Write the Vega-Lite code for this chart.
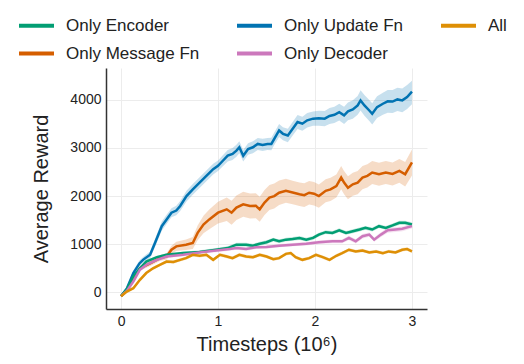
{
  "$schema": "https://vega.github.io/schema/vega-lite/v6.json",
  "width": 321,
  "height": 241,
  "autosize": "none",
  "padding": {"left": 106, "top": 68, "right": 97, "bottom": 55},
  "background": "white",
  "config": {
    "view": {"stroke": null},
    "font": "Liberation Sans",
    "axis": {
      "labelFont": "Liberation Sans", "titleFont": "Liberation Sans",
      "labelFontSize": 14, "titleFontSize": 20, "titleFontWeight": "normal",
      "labelColor": "#222", "titleColor": "#222",
      "domainColor": "#333", "domainWidth": 1.5,
      "gridColor": "#ececec", "gridWidth": 1, "ticks": false
    },
    "legend": {
      "labelFontSize": 17, "labelFont": "Liberation Sans", "labelColor": "#222",
      "symbolStrokeWidth": 4, "padding": 0
    }
  },
  "data": {"values": [
    {"s":"Only Update Fn","t":0,"v":-80,"lo":-100,"hi":-60},
    {"s":"Only Update Fn","t":0.06,"v":80,"lo":40,"hi":120},
    {"s":"Only Update Fn","t":0.127,"v":400,"lo":340,"hi":460},
    {"s":"Only Update Fn","t":0.19,"v":600,"lo":540,"hi":660},
    {"s":"Only Update Fn","t":0.23,"v":680,"lo":620,"hi":740},
    {"s":"Only Update Fn","t":0.3,"v":780,"lo":710,"hi":850},
    {"s":"Only Update Fn","t":0.35,"v":1025,"lo":940,"hi":1110},
    {"s":"Only Update Fn","t":0.42,"v":1375,"lo":1280,"hi":1470},
    {"s":"Only Update Fn","t":0.47,"v":1515,"lo":1420,"hi":1610},
    {"s":"Only Update Fn","t":0.52,"v":1655,"lo":1560,"hi":1750},
    {"s":"Only Update Fn","t":0.57,"v":1700,"lo":1600,"hi":1800},
    {"s":"Only Update Fn","t":0.61,"v":1795,"lo":1690,"hi":1900},
    {"s":"Only Update Fn","t":0.675,"v":2000,"lo":1890,"hi":2110},
    {"s":"Only Update Fn","t":0.74,"v":2140,"lo":2030,"hi":2250},
    {"s":"Only Update Fn","t":0.81,"v":2280,"lo":2170,"hi":2390},
    {"s":"Only Update Fn","t":0.88,"v":2420,"lo":2310,"hi":2530},
    {"s":"Only Update Fn","t":0.95,"v":2560,"lo":2450,"hi":2670},
    {"s":"Only Update Fn","t":1.0,"v":2630,"lo":2520,"hi":2740},
    {"s":"Only Update Fn","t":1.05,"v":2735,"lo":2620,"hi":2850},
    {"s":"Only Update Fn","t":1.1,"v":2840,"lo":2720,"hi":2960},
    {"s":"Only Update Fn","t":1.15,"v":2875,"lo":2750,"hi":3000},
    {"s":"Only Update Fn","t":1.19,"v":2945,"lo":2820,"hi":3070},
    {"s":"Only Update Fn","t":1.22,"v":3015,"lo":2890,"hi":3140},
    {"s":"Only Update Fn","t":1.26,"v":2840,"lo":2720,"hi":2960},
    {"s":"Only Update Fn","t":1.31,"v":2980,"lo":2860,"hi":3100},
    {"s":"Only Update Fn","t":1.36,"v":3015,"lo":2890,"hi":3140},
    {"s":"Only Update Fn","t":1.41,"v":3085,"lo":2960,"hi":3210},
    {"s":"Only Update Fn","t":1.46,"v":3065,"lo":2940,"hi":3190},
    {"s":"Only Update Fn","t":1.51,"v":3085,"lo":2960,"hi":3210},
    {"s":"Only Update Fn","t":1.55,"v":3085,"lo":2955,"hi":3215},
    {"s":"Only Update Fn","t":1.58,"v":3190,"lo":3060,"hi":3320},
    {"s":"Only Update Fn","t":1.63,"v":3365,"lo":3230,"hi":3500},
    {"s":"Only Update Fn","t":1.67,"v":3295,"lo":3160,"hi":3430},
    {"s":"Only Update Fn","t":1.72,"v":3260,"lo":3120,"hi":3400},
    {"s":"Only Update Fn","t":1.77,"v":3400,"lo":3260,"hi":3540},
    {"s":"Only Update Fn","t":1.82,"v":3540,"lo":3395,"hi":3685},
    {"s":"Only Update Fn","t":1.87,"v":3505,"lo":3360,"hi":3650},
    {"s":"Only Update Fn","t":1.92,"v":3575,"lo":3425,"hi":3725},
    {"s":"Only Update Fn","t":1.98,"v":3610,"lo":3460,"hi":3760},
    {"s":"Only Update Fn","t":2.04,"v":3620,"lo":3465,"hi":3775},
    {"s":"Only Update Fn","t":2.1,"v":3610,"lo":3450,"hi":3770},
    {"s":"Only Update Fn","t":2.15,"v":3665,"lo":3500,"hi":3830},
    {"s":"Only Update Fn","t":2.2,"v":3690,"lo":3520,"hi":3860},
    {"s":"Only Update Fn","t":2.25,"v":3745,"lo":3570,"hi":3920},
    {"s":"Only Update Fn","t":2.3,"v":3680,"lo":3500,"hi":3860},
    {"s":"Only Update Fn","t":2.34,"v":3760,"lo":3575,"hi":3945},
    {"s":"Only Update Fn","t":2.39,"v":3800,"lo":3610,"hi":3990},
    {"s":"Only Update Fn","t":2.44,"v":3885,"lo":3690,"hi":4080},
    {"s":"Only Update Fn","t":2.47,"v":3990,"lo":3780,"hi":4200},
    {"s":"Only Update Fn","t":2.51,"v":3885,"lo":3670,"hi":4100},
    {"s":"Only Update Fn","t":2.56,"v":3780,"lo":3560,"hi":4000},
    {"s":"Only Update Fn","t":2.59,"v":3710,"lo":3490,"hi":3930},
    {"s":"Only Update Fn","t":2.64,"v":3850,"lo":3625,"hi":4075},
    {"s":"Only Update Fn","t":2.7,"v":3920,"lo":3690,"hi":4150},
    {"s":"Only Update Fn","t":2.75,"v":3970,"lo":3735,"hi":4205},
    {"s":"Only Update Fn","t":2.8,"v":3965,"lo":3725,"hi":4205},
    {"s":"Only Update Fn","t":2.85,"v":4010,"lo":3770,"hi":4250},
    {"s":"Only Update Fn","t":2.9,"v":3990,"lo":3745,"hi":4235},
    {"s":"Only Update Fn","t":2.95,"v":4060,"lo":3810,"hi":4310},
    {"s":"Only Update Fn","t":3.0,"v":4170,"lo":3910,"hi":4400},

    {"s":"Only Message Fn","t":0,"v":-80,"lo":-100,"hi":-60},
    {"s":"Only Message Fn","t":0.06,"v":40,"lo":10,"hi":70},
    {"s":"Only Message Fn","t":0.127,"v":260,"lo":220,"hi":300},
    {"s":"Only Message Fn","t":0.195,"v":500,"lo":450,"hi":550},
    {"s":"Only Message Fn","t":0.3,"v":600,"lo":545,"hi":655},
    {"s":"Only Message Fn","t":0.4,"v":710,"lo":650,"hi":770},
    {"s":"Only Message Fn","t":0.47,"v":745,"lo":680,"hi":810},
    {"s":"Only Message Fn","t":0.52,"v":885,"lo":800,"hi":970},
    {"s":"Only Message Fn","t":0.57,"v":955,"lo":860,"hi":1050},
    {"s":"Only Message Fn","t":0.67,"v":990,"lo":880,"hi":1100},
    {"s":"Only Message Fn","t":0.74,"v":1025,"lo":900,"hi":1150},
    {"s":"Only Message Fn","t":0.79,"v":1235,"lo":1080,"hi":1390},
    {"s":"Only Message Fn","t":0.85,"v":1410,"lo":1230,"hi":1590},
    {"s":"Only Message Fn","t":0.91,"v":1515,"lo":1310,"hi":1720},
    {"s":"Only Message Fn","t":1.0,"v":1655,"lo":1430,"hi":1880},
    {"s":"Only Message Fn","t":1.09,"v":1725,"lo":1480,"hi":1970},
    {"s":"Only Message Fn","t":1.14,"v":1655,"lo":1405,"hi":1905},
    {"s":"Only Message Fn","t":1.19,"v":1760,"lo":1505,"hi":2015},
    {"s":"Only Message Fn","t":1.26,"v":1830,"lo":1570,"hi":2090},
    {"s":"Only Message Fn","t":1.33,"v":1795,"lo":1535,"hi":2055},
    {"s":"Only Message Fn","t":1.39,"v":1800,"lo":1540,"hi":2060},
    {"s":"Only Message Fn","t":1.43,"v":1725,"lo":1465,"hi":1985},
    {"s":"Only Message Fn","t":1.48,"v":1865,"lo":1605,"hi":2125},
    {"s":"Only Message Fn","t":1.53,"v":1970,"lo":1710,"hi":2230},
    {"s":"Only Message Fn","t":1.58,"v":2000,"lo":1740,"hi":2260},
    {"s":"Only Message Fn","t":1.63,"v":2070,"lo":1815,"hi":2325},
    {"s":"Only Message Fn","t":1.7,"v":2110,"lo":1860,"hi":2360},
    {"s":"Only Message Fn","t":1.77,"v":2075,"lo":1830,"hi":2320},
    {"s":"Only Message Fn","t":1.84,"v":2040,"lo":1795,"hi":2285},
    {"s":"Only Message Fn","t":1.89,"v":2020,"lo":1775,"hi":2265},
    {"s":"Only Message Fn","t":1.94,"v":2070,"lo":1825,"hi":2315},
    {"s":"Only Message Fn","t":1.99,"v":2050,"lo":1805,"hi":2295},
    {"s":"Only Message Fn","t":2.04,"v":2000,"lo":1760,"hi":2240},
    {"s":"Only Message Fn","t":2.11,"v":2110,"lo":1870,"hi":2350},
    {"s":"Only Message Fn","t":2.16,"v":2140,"lo":1900,"hi":2380},
    {"s":"Only Message Fn","t":2.22,"v":2210,"lo":1970,"hi":2450},
    {"s":"Only Message Fn","t":2.27,"v":2385,"lo":2145,"hi":2625},
    {"s":"Only Message Fn","t":2.3,"v":2280,"lo":2040,"hi":2520},
    {"s":"Only Message Fn","t":2.34,"v":2175,"lo":1935,"hi":2415},
    {"s":"Only Message Fn","t":2.39,"v":2245,"lo":2005,"hi":2485},
    {"s":"Only Message Fn","t":2.44,"v":2280,"lo":2040,"hi":2520},
    {"s":"Only Message Fn","t":2.49,"v":2385,"lo":2145,"hi":2625},
    {"s":"Only Message Fn","t":2.54,"v":2420,"lo":2180,"hi":2660},
    {"s":"Only Message Fn","t":2.59,"v":2490,"lo":2250,"hi":2730},
    {"s":"Only Message Fn","t":2.66,"v":2455,"lo":2215,"hi":2695},
    {"s":"Only Message Fn","t":2.73,"v":2490,"lo":2250,"hi":2730},
    {"s":"Only Message Fn","t":2.8,"v":2460,"lo":2220,"hi":2700},
    {"s":"Only Message Fn","t":2.87,"v":2525,"lo":2280,"hi":2770},
    {"s":"Only Message Fn","t":2.93,"v":2455,"lo":2200,"hi":2710},
    {"s":"Only Message Fn","t":3.0,"v":2700,"lo":2430,"hi":2970},

    {"s":"Only Encoder","t":0,"v":-80,"lo":-100,"hi":-60},
    {"s":"Only Encoder","t":0.06,"v":60,"lo":35,"hi":85},
    {"s":"Only Encoder","t":0.127,"v":330,"lo":300,"hi":360},
    {"s":"Only Encoder","t":0.195,"v":500,"lo":470,"hi":530},
    {"s":"Only Encoder","t":0.26,"v":640,"lo":610,"hi":670},
    {"s":"Only Encoder","t":0.37,"v":730,"lo":700,"hi":760},
    {"s":"Only Encoder","t":0.47,"v":780,"lo":750,"hi":810},
    {"s":"Only Encoder","t":0.64,"v":815,"lo":785,"hi":845},
    {"s":"Only Encoder","t":0.81,"v":840,"lo":805,"hi":875},
    {"s":"Only Encoder","t":0.98,"v":885,"lo":850,"hi":920},
    {"s":"Only Encoder","t":1.1,"v":920,"lo":880,"hi":960},
    {"s":"Only Encoder","t":1.19,"v":990,"lo":950,"hi":1030},
    {"s":"Only Encoder","t":1.29,"v":990,"lo":950,"hi":1030},
    {"s":"Only Encoder","t":1.36,"v":970,"lo":930,"hi":1010},
    {"s":"Only Encoder","t":1.43,"v":1010,"lo":970,"hi":1050},
    {"s":"Only Encoder","t":1.5,"v":1040,"lo":1000,"hi":1080},
    {"s":"Only Encoder","t":1.57,"v":1095,"lo":1055,"hi":1135},
    {"s":"Only Encoder","t":1.63,"v":1060,"lo":1020,"hi":1100},
    {"s":"Only Encoder","t":1.7,"v":1095,"lo":1055,"hi":1135},
    {"s":"Only Encoder","t":1.77,"v":1110,"lo":1070,"hi":1150},
    {"s":"Only Encoder","t":1.84,"v":1130,"lo":1090,"hi":1170},
    {"s":"Only Encoder","t":1.91,"v":1095,"lo":1055,"hi":1135},
    {"s":"Only Encoder","t":1.98,"v":1130,"lo":1090,"hi":1170},
    {"s":"Only Encoder","t":2.04,"v":1200,"lo":1160,"hi":1240},
    {"s":"Only Encoder","t":2.11,"v":1250,"lo":1210,"hi":1290},
    {"s":"Only Encoder","t":2.18,"v":1235,"lo":1195,"hi":1275},
    {"s":"Only Encoder","t":2.25,"v":1290,"lo":1250,"hi":1330},
    {"s":"Only Encoder","t":2.32,"v":1235,"lo":1195,"hi":1275},
    {"s":"Only Encoder","t":2.39,"v":1270,"lo":1230,"hi":1310},
    {"s":"Only Encoder","t":2.46,"v":1305,"lo":1265,"hi":1345},
    {"s":"Only Encoder","t":2.52,"v":1340,"lo":1300,"hi":1380},
    {"s":"Only Encoder","t":2.59,"v":1305,"lo":1265,"hi":1345},
    {"s":"Only Encoder","t":2.66,"v":1375,"lo":1335,"hi":1415},
    {"s":"Only Encoder","t":2.73,"v":1340,"lo":1300,"hi":1380},
    {"s":"Only Encoder","t":2.8,"v":1390,"lo":1350,"hi":1430},
    {"s":"Only Encoder","t":2.87,"v":1445,"lo":1400,"hi":1490},
    {"s":"Only Encoder","t":2.93,"v":1445,"lo":1400,"hi":1490},
    {"s":"Only Encoder","t":3.0,"v":1410,"lo":1365,"hi":1455},

    {"s":"Only Decoder","t":0,"v":-80,"lo":-100,"hi":-60},
    {"s":"Only Decoder","t":0.06,"v":30,"lo":5,"hi":55},
    {"s":"Only Decoder","t":0.127,"v":225,"lo":195,"hi":255},
    {"s":"Only Decoder","t":0.195,"v":470,"lo":440,"hi":500},
    {"s":"Only Decoder","t":0.26,"v":570,"lo":540,"hi":600},
    {"s":"Only Decoder","t":0.37,"v":675,"lo":645,"hi":705},
    {"s":"Only Decoder","t":0.47,"v":745,"lo":715,"hi":775},
    {"s":"Only Decoder","t":0.64,"v":780,"lo":750,"hi":810},
    {"s":"Only Decoder","t":0.81,"v":830,"lo":795,"hi":865},
    {"s":"Only Decoder","t":0.98,"v":870,"lo":835,"hi":905},
    {"s":"Only Decoder","t":1.12,"v":900,"lo":865,"hi":935},
    {"s":"Only Decoder","t":1.19,"v":920,"lo":885,"hi":955},
    {"s":"Only Decoder","t":1.29,"v":900,"lo":865,"hi":935},
    {"s":"Only Decoder","t":1.39,"v":935,"lo":900,"hi":970},
    {"s":"Only Decoder","t":1.5,"v":940,"lo":905,"hi":975},
    {"s":"Only Decoder","t":1.63,"v":970,"lo":935,"hi":1005},
    {"s":"Only Decoder","t":1.77,"v":990,"lo":955,"hi":1025},
    {"s":"Only Decoder","t":1.91,"v":1010,"lo":975,"hi":1045},
    {"s":"Only Decoder","t":2.04,"v":1040,"lo":1005,"hi":1075},
    {"s":"Only Decoder","t":2.18,"v":1060,"lo":1020,"hi":1100},
    {"s":"Only Decoder","t":2.28,"v":1060,"lo":1020,"hi":1100},
    {"s":"Only Decoder","t":2.35,"v":1130,"lo":1085,"hi":1175},
    {"s":"Only Decoder","t":2.42,"v":1060,"lo":1015,"hi":1105},
    {"s":"Only Decoder","t":2.49,"v":1165,"lo":1120,"hi":1210},
    {"s":"Only Decoder","t":2.56,"v":1200,"lo":1155,"hi":1245},
    {"s":"Only Decoder","t":2.61,"v":1095,"lo":1050,"hi":1140},
    {"s":"Only Decoder","t":2.68,"v":1200,"lo":1150,"hi":1250},
    {"s":"Only Decoder","t":2.75,"v":1290,"lo":1240,"hi":1340},
    {"s":"Only Decoder","t":2.83,"v":1305,"lo":1255,"hi":1355},
    {"s":"Only Decoder","t":2.9,"v":1320,"lo":1270,"hi":1370},
    {"s":"Only Decoder","t":3.0,"v":1375,"lo":1325,"hi":1425},

    {"s":"All","t":0,"v":-80,"lo":-100,"hi":-60},
    {"s":"All","t":0.06,"v":15,"lo":-5,"hi":35},
    {"s":"All","t":0.127,"v":85,"lo":60,"hi":110},
    {"s":"All","t":0.195,"v":260,"lo":230,"hi":290},
    {"s":"All","t":0.26,"v":400,"lo":370,"hi":430},
    {"s":"All","t":0.33,"v":500,"lo":470,"hi":530},
    {"s":"All","t":0.4,"v":570,"lo":540,"hi":600},
    {"s":"All","t":0.47,"v":640,"lo":605,"hi":675},
    {"s":"All","t":0.54,"v":630,"lo":595,"hi":665},
    {"s":"All","t":0.61,"v":675,"lo":640,"hi":710},
    {"s":"All","t":0.67,"v":710,"lo":675,"hi":745},
    {"s":"All","t":0.74,"v":780,"lo":745,"hi":815},
    {"s":"All","t":0.81,"v":760,"lo":725,"hi":795},
    {"s":"All","t":0.88,"v":780,"lo":745,"hi":815},
    {"s":"All","t":0.95,"v":675,"lo":640,"hi":710},
    {"s":"All","t":1.02,"v":780,"lo":745,"hi":815},
    {"s":"All","t":1.09,"v":745,"lo":710,"hi":780},
    {"s":"All","t":1.15,"v":710,"lo":675,"hi":745},
    {"s":"All","t":1.22,"v":780,"lo":745,"hi":815},
    {"s":"All","t":1.29,"v":745,"lo":710,"hi":780},
    {"s":"All","t":1.36,"v":730,"lo":695,"hi":765},
    {"s":"All","t":1.43,"v":780,"lo":745,"hi":815},
    {"s":"All","t":1.5,"v":745,"lo":710,"hi":780},
    {"s":"All","t":1.57,"v":690,"lo":655,"hi":725},
    {"s":"All","t":1.63,"v":710,"lo":675,"hi":745},
    {"s":"All","t":1.7,"v":800,"lo":765,"hi":835},
    {"s":"All","t":1.75,"v":815,"lo":780,"hi":850},
    {"s":"All","t":1.8,"v":730,"lo":695,"hi":765},
    {"s":"All","t":1.87,"v":675,"lo":640,"hi":710},
    {"s":"All","t":1.94,"v":710,"lo":675,"hi":745},
    {"s":"All","t":2.01,"v":780,"lo":745,"hi":815},
    {"s":"All","t":2.08,"v":730,"lo":695,"hi":765},
    {"s":"All","t":2.15,"v":675,"lo":640,"hi":710},
    {"s":"All","t":2.22,"v":760,"lo":725,"hi":795},
    {"s":"All","t":2.28,"v":815,"lo":780,"hi":850},
    {"s":"All","t":2.35,"v":885,"lo":850,"hi":920},
    {"s":"All","t":2.42,"v":850,"lo":815,"hi":885},
    {"s":"All","t":2.49,"v":870,"lo":835,"hi":905},
    {"s":"All","t":2.56,"v":830,"lo":795,"hi":865},
    {"s":"All","t":2.63,"v":850,"lo":815,"hi":885},
    {"s":"All","t":2.7,"v":815,"lo":780,"hi":850},
    {"s":"All","t":2.76,"v":850,"lo":815,"hi":885},
    {"s":"All","t":2.83,"v":830,"lo":795,"hi":865},
    {"s":"All","t":2.9,"v":885,"lo":850,"hi":920},
    {"s":"All","t":2.95,"v":900,"lo":865,"hi":935},
    {"s":"All","t":3.0,"v":850,"lo":815,"hi":885}
  ]},
  "layer": [
    {
      "mark": {"type": "area", "fillOpacity": 0.22},
      "encoding": {
        "x": {"field": "t", "type": "quantitative"},
        "y": {"field": "lo", "type": "quantitative"},
        "y2": {"field": "hi"},
        "color": {"field": "s", "type": "nominal",
          "scale": {"domain": ["Only Encoder","Only Message Fn","Only Update Fn","Only Decoder","All"],
                    "range": ["#029e73","#d55e00","#0173b2","#cc78bc","#de8f05"]}}
      }
    },
    {
      "mark": {"type": "line", "strokeWidth": 2.5},
      "encoding": {
        "x": {"field": "t", "type": "quantitative",
          "scale": {"domain": [-0.155, 3.155], "nice": false, "zero": false},
          "axis": {"values": [0,1,2,3], "format": "d", "title": "Timesteps (10⁶)", "labelPadding": 5, "titlePadding": 6}},
        "y": {"field": "v", "type": "quantitative",
          "scale": {"domain": [-347, 4663], "nice": false, "zero": false},
          "axis": {"values": [0,1000,2000,3000,4000], "format": "d", "title": "Average Reward", "labelPadding": 5, "titlePadding": 18}},
        "color": {"field": "s", "type": "nominal",
          "scale": {"domain": ["Only Encoder","Only Message Fn","Only Update Fn","Only Decoder","All"],
                    "range": ["#029e73","#d55e00","#0173b2","#cc78bc","#de8f05"]},
          "legend": {"title": null, "orient": "none", "legendX": -89, "legendY": -62, "columns": 3,
            "columnPadding": 29, "rowPadding": -10, "labelOffset": 10,
            "symbolType": "stroke", "symbolSize": 1225, "symbolStrokeWidth": 4, "padding": 0,
            "symbolFillColor": "transparent",
            "encode": {"symbols": {"update": {"opacity": {"value": 1}, "fillOpacity": {"value": 0}, "strokeWidth": {"value": 4}, "stroke": {"scale": "color", "field": "value"}}}}}},
        "order": {"field": "t"}
      }
    }
  ]
}
